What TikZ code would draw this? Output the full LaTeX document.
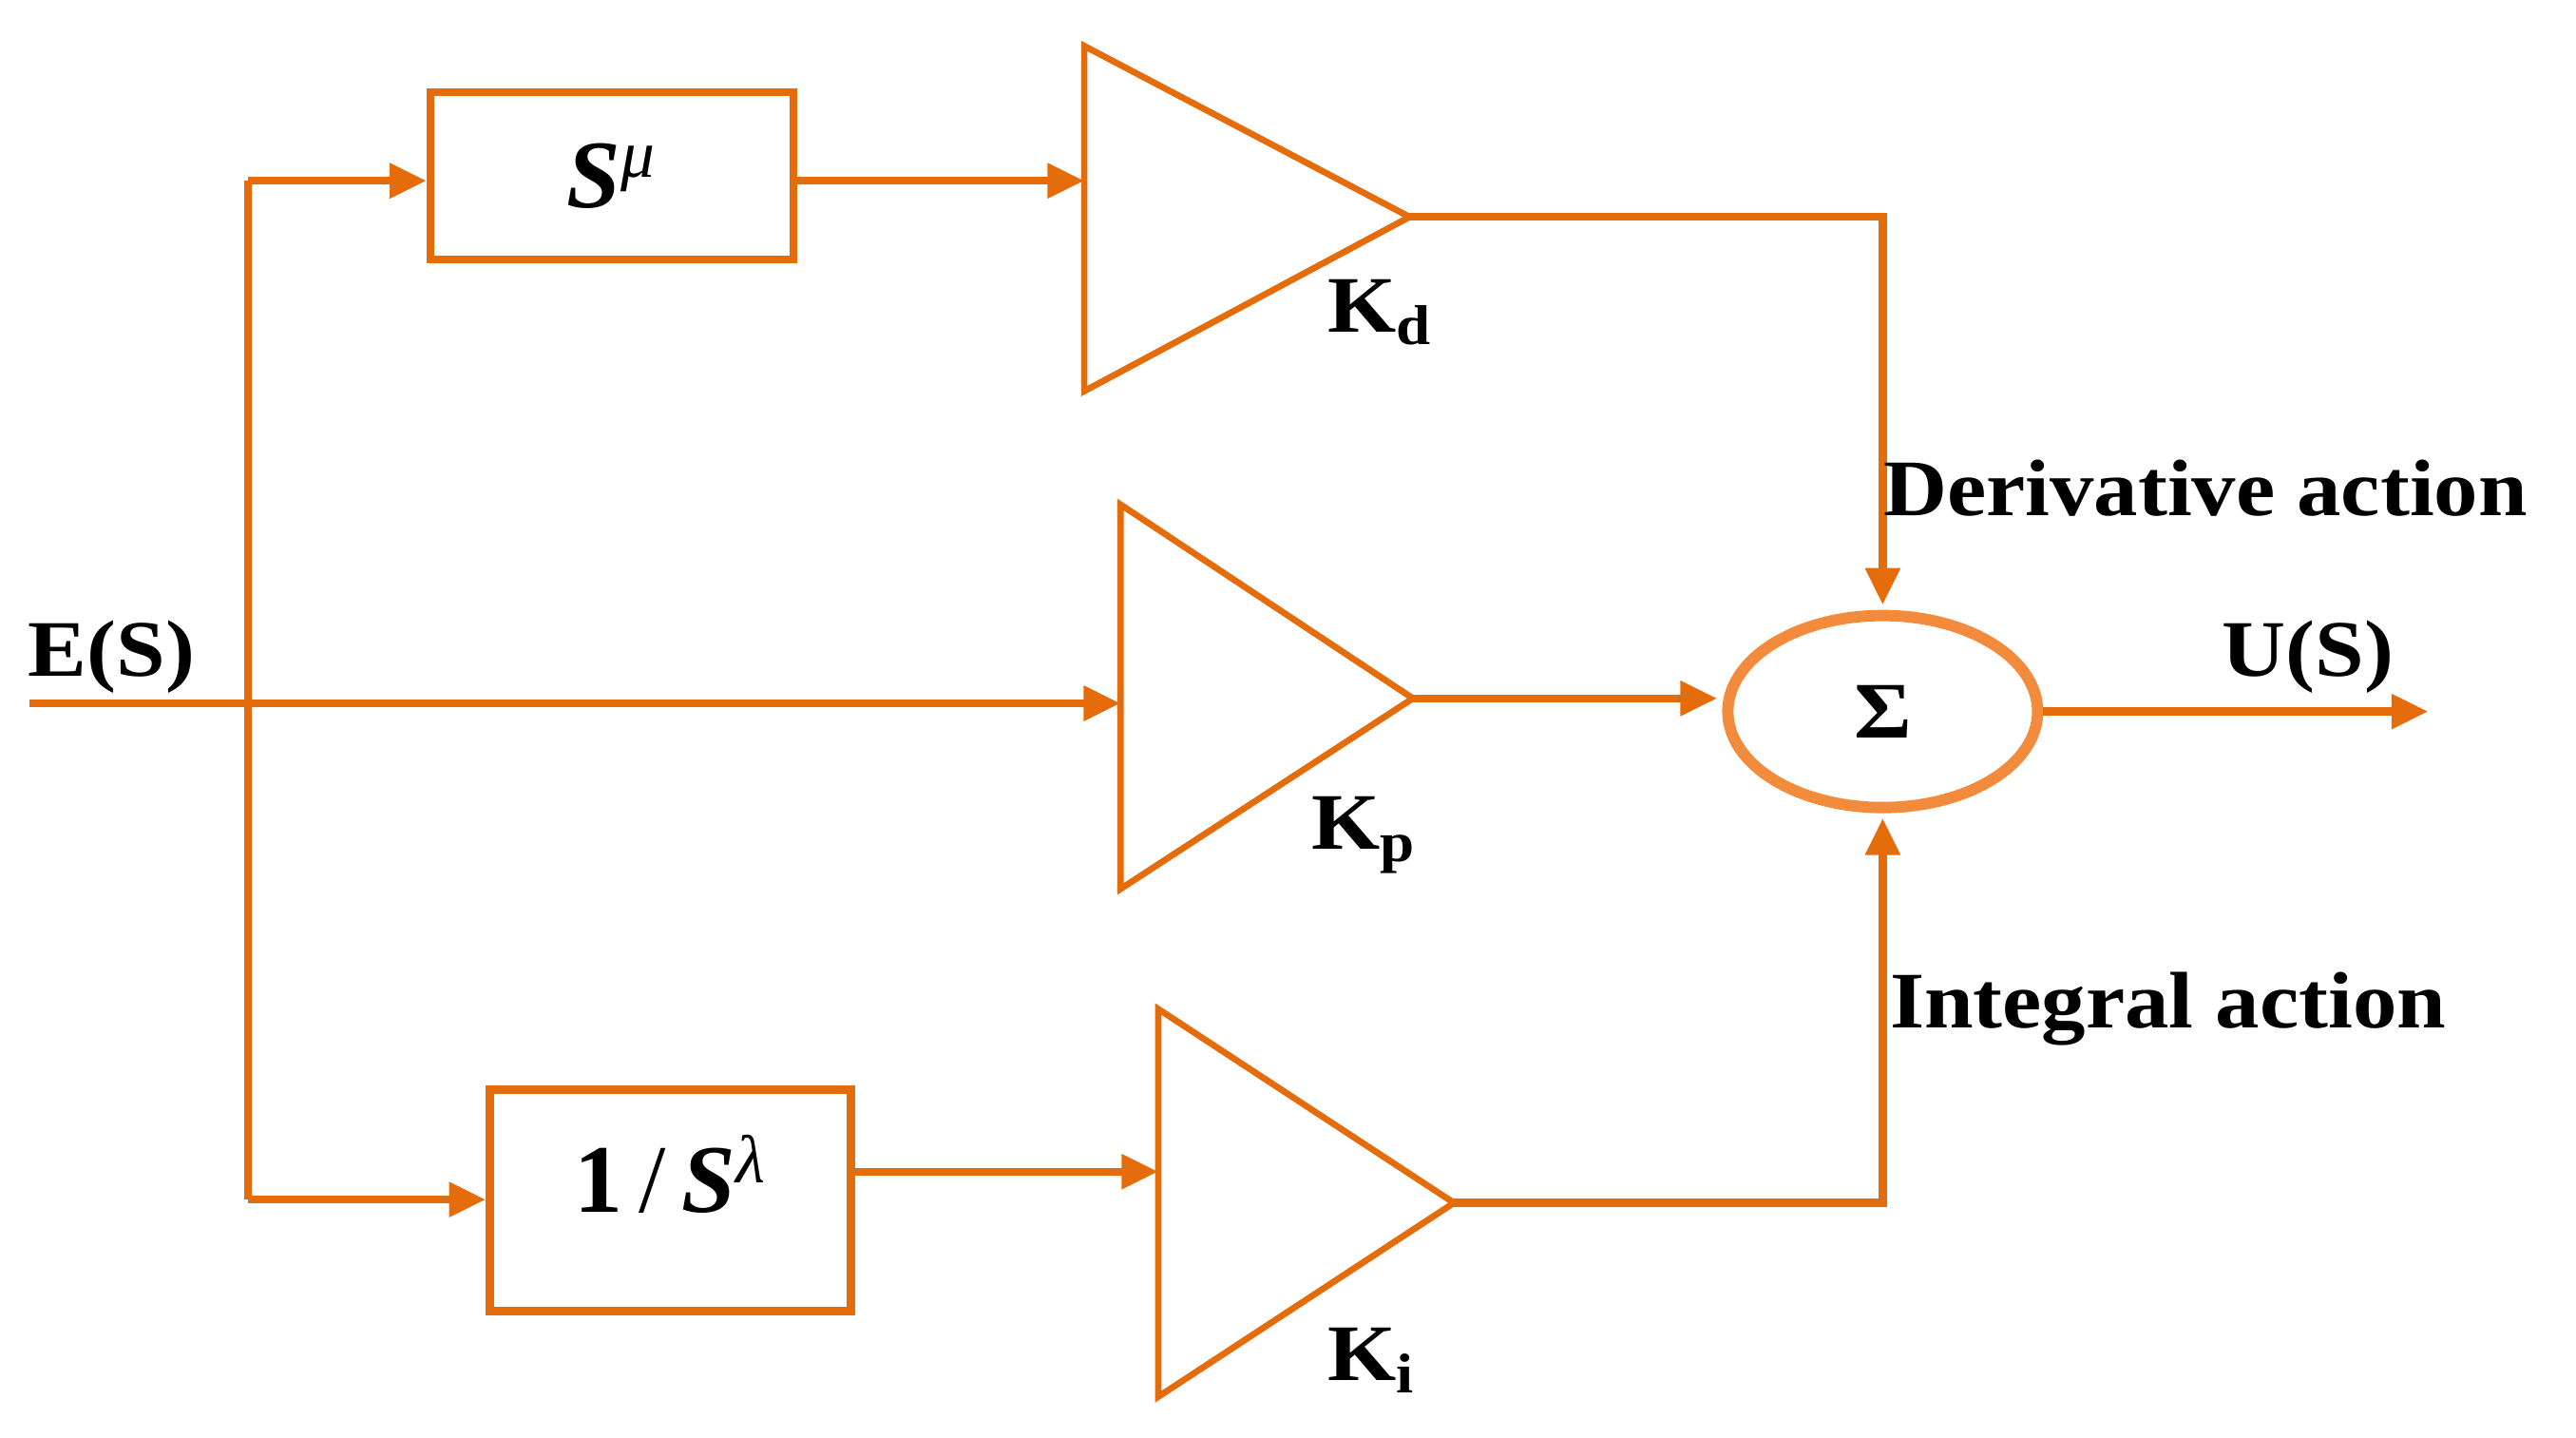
\documentclass[tikz,border=0pt]{standalone}
\usepackage{fontspec}
\setmainfont{Liberation Serif}
\newfontfamily\lblfont[FakeStretch=1.1]{Liberation Serif}
\usetikzlibrary{arrows.meta,shapes.geometric}
\definecolor{ora}{HTML}{E46C0A}
\definecolor{oral}{HTML}{F28C3C}
\tikzset{
  wire/.style={draw=ora, line width=2.4pt},
  arr/.style={wire, -{Triangle[length=11pt,width=10pt]}},
  blk/.style={draw=ora, line width=2.4pt, rectangle, inner sep=0pt},
  tri/.style={draw=ora, line width=1.9pt, line join=miter},
  lbl/.style={font=\lblfont\bfseries\fontsize{24}{28}\selectfont, text=black, inner sep=0pt},
  mth/.style={font=\fontsize{29}{33}\selectfont, text=black},
  sumnode/.style={ellipse, draw=oral, line width=3.4pt, minimum width=3.26cm, minimum height=2.02cm, inner sep=0pt}
}
\begin{document}
\begin{tikzpicture}[x=0.01729cm, y=-0.01729cm]
\useasboundingbox (0,0) rectangle (1568,875);

% blocks
\node[blk, mth, minimum width=3.82cm, minimum height=1.76cm] (boxD) at (372.5,107) {\textbf{\textit{S}}\textsuperscript{\textit{μ}}};
\node[blk, mth, minimum width=3.80cm, minimum height=2.33cm] (boxI) at (408,730.5) {\raisebox{1.2ex}{\textbf{1}\,/\,\textbf{\textit{S}}\textsuperscript{\textit{λ}}}};
\node[sumnode] (sum) at (1146,433) {};
\node[lbl] (sigma) at (sum.center) {Σ};

% amplifiers
\draw[tri] (660,28) -- (858,132) -- (660,238) -- cycle;
\draw[tri] (682,307) -- (860,425) -- (682,541) -- cycle;
\draw[tri] (705,614) -- (885,732) -- (705,850) -- cycle;
\coordinate (tDin) at (660,110);
\coordinate (tDout) at (858,132);
\coordinate (tPin) at (682,428);
\coordinate (tPout) at (860,425);
\coordinate (tIin) at (705,713);
\coordinate (tIout) at (885,732);

% gains
\node[lbl] (kd) at (840,190) {K\textsubscript{d}};
\node[lbl] (kp) at (830,508) {K\textsubscript{p}};
\node[lbl] (ki) at (835,828) {K\textsubscript{i}};

% signals
\coordinate (in) at (18,428);
\coordinate (spT) at (151,110);
\coordinate (spB) at (151,730);
\coordinate (out) at (1478,433);

\draw[wire] (spT) -- (spB);
\draw[arr] (in) -- (tPin);
\draw[arr] (spT) -- (spT -| boxD.west);
\draw[arr] (spB) -- (spB -| boxI.west);
\draw[arr] (boxD.east |- tDin) -- (tDin);
\draw[arr] (boxI.east |- tIin) -- (tIin);
\draw[arr, shorten >=1.5pt] (tDout) -| (sum.north);
\draw[arr, shorten >=1.5pt] (tIout) -| (sum.south);
\draw[arr, shorten >=1.5pt] (tPout) -- (tPout -| sum.west);
\draw[arr] (sum.east) -- (out);

% labels
\node[lbl] (es) at (68,400) {E(S)};
\node[lbl] (us) at (1405,400) {U(S)};
\node[lbl, anchor=west] (der) at (1146,297) {Derivative action};
\node[lbl, anchor=west] (integ) at (1150,614) {Integral action};
\end{tikzpicture}
\end{document}
